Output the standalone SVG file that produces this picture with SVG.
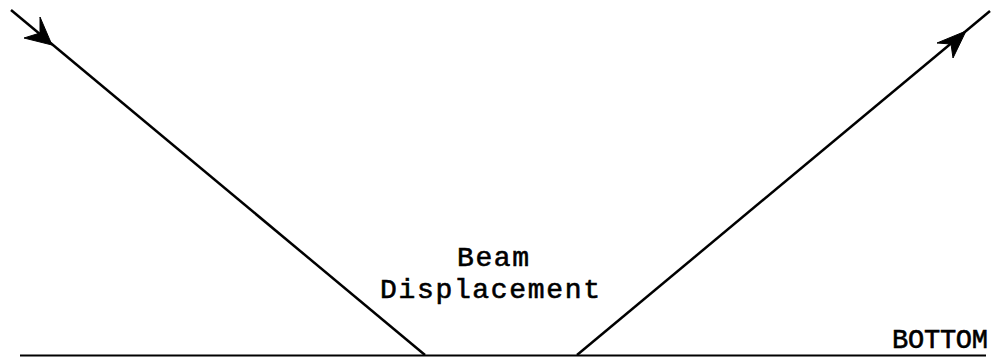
<svg xmlns="http://www.w3.org/2000/svg" width="991" height="357" viewBox="0 0 991 357">
<style>
.ln{stroke:#000;stroke-width:2.5;fill:none}
.ah{fill:#000;stroke:#000;stroke-width:1;stroke-linejoin:miter}
.t{font-family:"Liberation Mono","Courier New",monospace;fill:#000;stroke:#000;stroke-width:0.6}
</style>
<rect width="991" height="357" fill="#fff"/>
<g id="connectors">
<line class="ln" x1="11" y1="10" x2="425" y2="355"/>
<polygon class="ah" points="52,45 40,17 40,33 24,38"/>
<line class="ln" x1="577" y1="355" x2="990" y2="11"/>
<polygon class="ah" points="966,31 937,43 951,44 953,58"/>
</g>
<g id="bottom">
<line x1="20" y1="355.5" x2="986" y2="355.5" stroke="#000" stroke-width="2"/>
<text class="t" x="988" y="348" font-size="27" text-anchor="end" textLength="96" lengthAdjust="spacing">BOTTOM</text>
</g>
<g id="label">
<text class="t" x="493" y="266" font-size="28" text-anchor="middle" textLength="72" lengthAdjust="spacing">Beam</text>
<text class="t" x="490" y="298" font-size="28" text-anchor="middle" textLength="220" lengthAdjust="spacing">Displacement</text>
</g>
</svg>
